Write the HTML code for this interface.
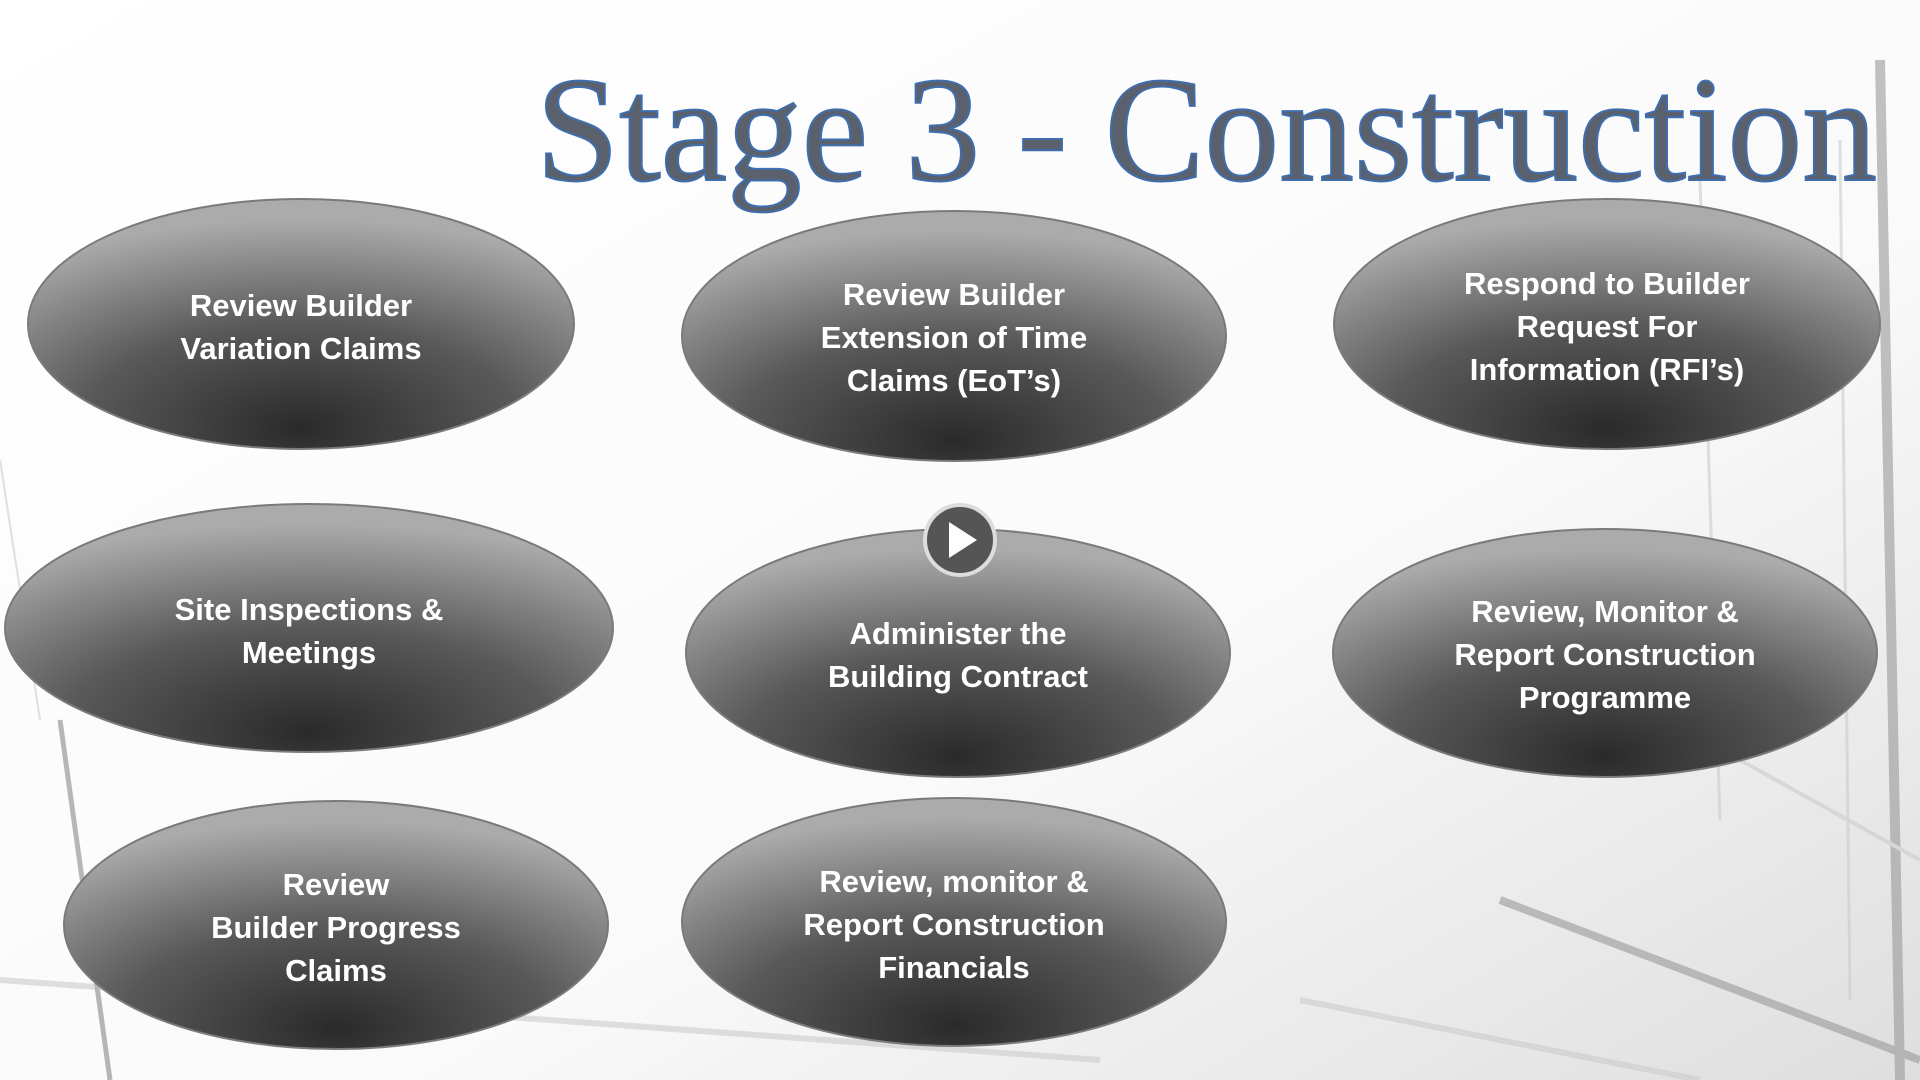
<!DOCTYPE html>
<html><head><meta charset="utf-8"><style>
html,body{margin:0;padding:0;width:1920px;height:1080px;overflow:hidden;background:#fff}
svg{display:block}
</style></head><body>
<svg width="1920" height="1080" viewBox="0 0 1920 1080" xmlns="http://www.w3.org/2000/svg">
<defs>
<radialGradient id="g" cx="50%" cy="88%" r="80%" fx="50%" fy="92%">
<stop offset="0" stop-color="#2a2a2a"/>
<stop offset="0.5" stop-color="#595959"/>
<stop offset="1" stop-color="#ababab"/>
</radialGradient>
<linearGradient id="bg" x1="0" y1="0" x2="1" y2="1">
<stop offset="0" stop-color="#fff"/><stop offset="0.6" stop-color="#fafafa"/><stop offset="1" stop-color="#dedede"/>
</linearGradient>
</defs>
<rect width="1920" height="1080" fill="url(#bg)"/>
<g stroke="#ccc" fill="none" opacity="0.6">
<path d="M1880 60 L1900 1080" stroke-width="10" stroke="#999"/>
<path d="M1840 140 L1850 1000" stroke-width="3"/>
<path d="M1700 180 L1720 820" stroke-width="3"/>
<path d="M1740 760 L1920 860" stroke-width="4"/>
<path d="M1500 900 L1920 1060" stroke-width="8" stroke="#999"/>
<path d="M1300 1000 L1700 1080" stroke-width="6"/>
<path d="M0 980 L1100 1060" stroke-width="6"/>
<path d="M60 720 L110 1080" stroke-width="5" stroke="#888"/>
<path d="M0 460 L40 720" stroke-width="2"/>
</g>
<text x="536" y="180" font-family="'Liberation Serif',serif" font-size="150" textLength="1341" lengthAdjust="spacingAndGlyphs" fill="#5a606c" stroke="#3f6eae" stroke-width="2">Stage 3 - Construction</text>
<g stroke="#7a7a7a" stroke-width="2" fill="url(#g)">
<ellipse cx="301" cy="324" rx="273" ry="125"/>
<ellipse cx="954" cy="336" rx="272" ry="125"/>
<ellipse cx="1607" cy="324" rx="273" ry="125"/>
<ellipse cx="309" cy="628" rx="304" ry="124"/>
<ellipse cx="958" cy="653" rx="272" ry="124"/>
<ellipse cx="1605" cy="653" rx="272" ry="124"/>
<ellipse cx="336" cy="925" rx="272" ry="124"/>
<ellipse cx="954" cy="922" rx="272" ry="124"/>
</g>
<g font-family="'Liberation Sans',sans-serif" font-weight="bold" font-size="31" fill="#fff" text-anchor="middle">
<text x="301" y="316">Review Builder</text><text x="301" y="359">Variation Claims</text>
<text x="954" y="305">Review Builder</text><text x="954" y="348">Extension of Time</text><text x="954" y="391">Claims (EoT’s)</text>
<text x="1607" y="294">Respond to Builder</text><text x="1607" y="337">Request For</text><text x="1607" y="380">Information (RFI’s)</text>
<text x="309" y="620">Site Inspections &amp;</text><text x="309" y="663">Meetings</text>
<text x="958" y="644">Administer the</text><text x="958" y="687">Building Contract</text>
<text x="1605" y="622">Review, Monitor &amp;</text><text x="1605" y="665">Report Construction</text><text x="1605" y="708">Programme</text>
<text x="336" y="895">Review</text><text x="336" y="938">Builder Progress</text><text x="336" y="981">Claims</text>
<text x="954" y="892">Review, monitor &amp;</text><text x="954" y="935">Report Construction</text><text x="954" y="978">Financials</text>
</g>
<circle cx="960" cy="540" r="35" fill="#555" stroke="#ddd" stroke-width="4"/>
<path d="M949 522 L977 540 L949 558 Z" fill="#fff"/>
</svg>
</body></html>
